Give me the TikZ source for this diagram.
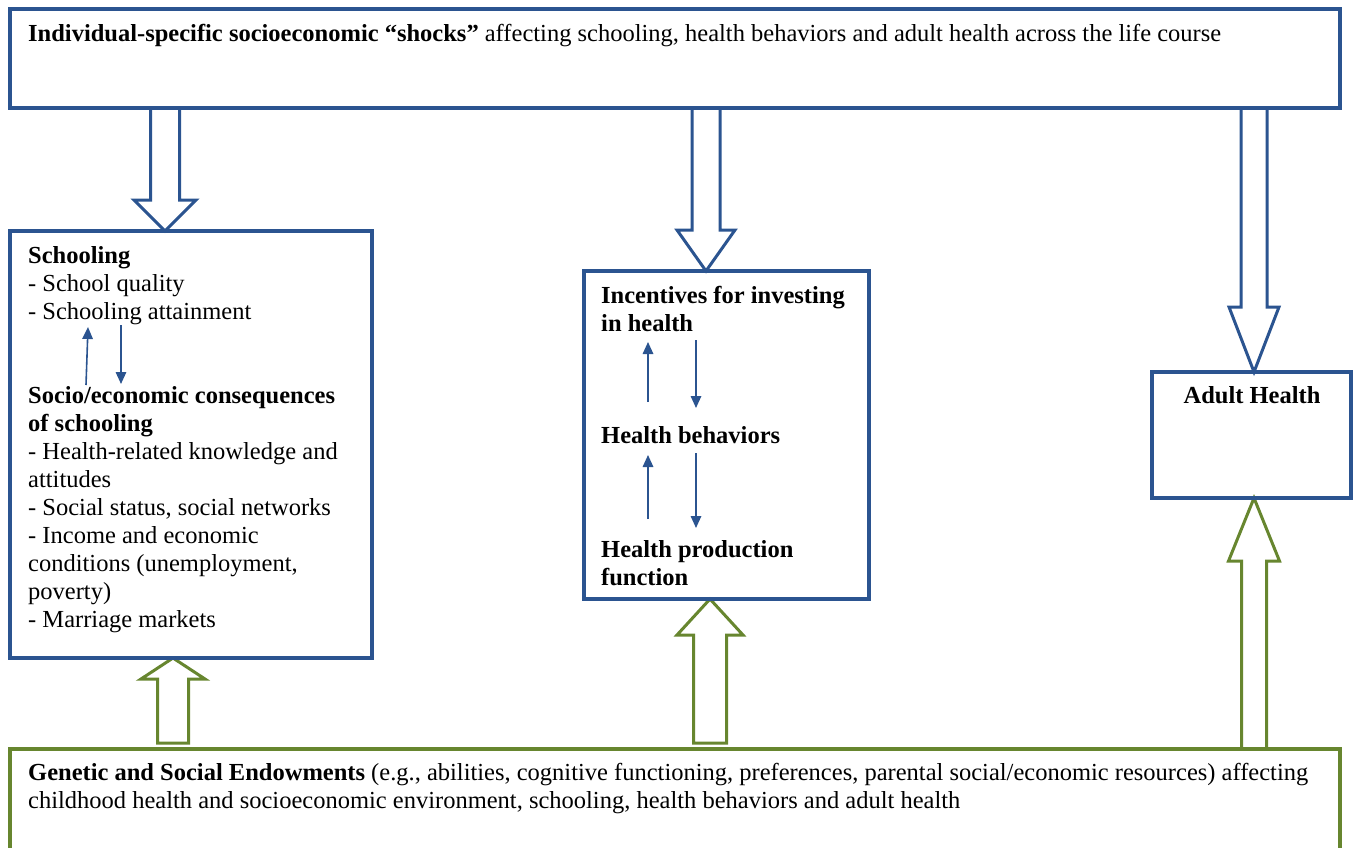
\documentclass[tikz,border=0pt]{standalone}
\usepackage{fontspec}
\setmainfont{Liberation Serif}
\usetikzlibrary{calc,arrows.meta}
\definecolor{boxblue}{HTML}{2B5490}
\definecolor{boxgreen}{HTML}{67862F}

% hollow block arrow: style, start, tip, shaft half width, head half width, head length
\newcommand\fatarrow[6]{%
  \coordinate (fa-b) at ($(#3)!#6!(#2)$);
  \draw[#1] ([xshift=-#4]#2) -- ([xshift=-#4]fa-b) -- ([xshift=-#5]fa-b) -- (#3)
    -- ([xshift=#5]fa-b) -- ([xshift=#4]fa-b) -- ([xshift=#4]#2) -- cycle;}

\begin{document}
\begin{tikzpicture}[x=1pt,y=-1pt,
  bluebox/.style={draw=boxblue, line width=3.4pt, inner sep=0pt, outer sep=0pt},
  greenbox/.style={draw=boxgreen, line width=3.4pt, inner sep=0pt, outer sep=0pt},
  bluearrow/.style={draw=boxblue, line width=3pt, fill=white, line join=miter},
  greenarrow/.style={draw=boxgreen, line width=3pt, fill=white, line join=miter},
  thinarrow/.style={draw=boxblue, line width=1.6pt, -{Triangle[length=12pt,width=10.5pt]}},
  txt/.style={anchor=base west, inner sep=0pt, font=\fontsize{24.5}{28}\selectfont},
  ctxt/.style={anchor=base, inner sep=0pt, font=\fontsize{24.5}{28}\selectfont}]
\clip (0,0) rectangle (1355,848);

% boxes
\node[bluebox, minimum width=1330pt, minimum height=99pt] (top) at (675,58.5) {};
\node[bluebox, minimum width=362pt, minimum height=427pt] (school) at (191,444.5) {};
\node[bluebox, minimum width=285pt, minimum height=328pt] (mid) at (726.5,435) {};
\node[bluebox, minimum width=199pt, minimum height=126pt] (adult) at (1251.5,435) {};
\node[greenbox, minimum width=1330pt, minimum height=151pt] (endow) at (675,824.5) {};

% arrow axes
\coordinate (c1) at (165,0);
\coordinate (c2) at (706,0);
\coordinate (c3) at (1254,0);
\coordinate (c4) at (173,0);
\coordinate (c5) at (710,0);

% shocks feeding down
\coordinate (a1s) at (top.south -| c1);
\coordinate (a1t) at (school.north -| c1);
\coordinate (a2s) at (top.south -| c2);
\coordinate (a2t) at (mid.north -| c2);
\coordinate (a3s) at (top.south -| c3);
\coordinate (a3t) at (adult.north -| c3);
\fatarrow{bluearrow}{a1s}{a1t}{14.5pt}{31pt}{31pt}
\fatarrow{bluearrow}{a2s}{a2t}{14pt}{29pt}{41pt}
\fatarrow{bluearrow}{a3s}{a3t}{13pt}{25pt}{65pt}

% endowments feeding up
\coordinate (a4s) at ($(endow.north -| c4)+(0,-6)$);
\coordinate (a4t) at (school.south -| c4);
\coordinate (a5s) at ($(endow.north -| c5)+(0,-6)$);
\coordinate (a5t) at (mid.south -| c5);
\coordinate (a6s) at (endow.north -| c3);
\coordinate (a6t) at (adult.south -| c3);
\fatarrow{greenarrow}{a4s}{a4t}{15.5pt}{32pt}{21pt}
\fatarrow{greenarrow}{a5s}{a5t}{16.5pt}{33pt}{36pt}
\fatarrow{greenarrow}{a6s}{a6t}{12.5pt}{25.5pt}{63pt}

% box outlines again, over the arrow ends
\draw[boxblue, line width=3.4pt] (top.south west) rectangle (top.north east);
\draw[boxblue, line width=3.4pt] (school.south west) rectangle (school.north east);
\draw[boxblue, line width=3.4pt] (mid.south west) rectangle (mid.north east);
\draw[boxblue, line width=3.4pt] (adult.south west) rectangle (adult.north east);
\draw[boxgreen, line width=3.4pt] (endow.south west) rectangle (endow.north east);

% texts
\node[txt] (t1) at (28,42) {\textbf{Individual-specific socioeconomic “shocks”} affecting schooling, health behaviors and adult health across the life course};

\node[txt] (s1) at (28,263) {\textbf{Schooling}};
\node[txt] (s2) at (28,291) {- School quality};
\node[txt] (s3) at (28,319) {- Schooling attainment};
\node[txt] (s4) at (28,403) {\textbf{Socio/economic consequences}};
\node[txt] (s5) at (28,431) {\textbf{of schooling}};
\node[txt] (s6) at (28,459) {- Health-related knowledge and};
\node[txt] (s7) at (28,487) {attitudes};
\node[txt] (s8) at (28,515) {- Social status, social networks};
\node[txt] (s9) at (28,543) {- Income and economic};
\node[txt] (s10) at (28,571) {conditions (unemployment,};
\node[txt] (s11) at (28,599) {poverty)};
\node[txt] (s12) at (28,627) {- Marriage markets};

\node[txt] (m1) at (601,303) {\textbf{Incentives for investing}};
\node[txt] (m2) at (601,331) {\textbf{in health}};
\node[txt] (m3) at (601,443) {\textbf{Health behaviors}};
\node[txt] (m4) at (601,557) {\textbf{Health production}};
\node[txt] (m5) at (601,585) {\textbf{function}};

\node[ctxt] (ah) at (1252,403) {\textbf{Adult Health}};

\node[txt] (g1) at (28,780) {\textbf{Genetic and Social Endowments} (e.g., abilities, cognitive functioning, preferences, parental social/economic resources) affecting};
\node[txt] (g2) at (28,808) {childhood health and socioeconomic environment, schooling, health behaviors and adult health};

% small two-way arrows
\coordinate (u1a) at (86,385); \coordinate (u1b) at (88,327);
\coordinate (d1a) at (121,325); \coordinate (d1b) at (121,384);
\draw[thinarrow] (u1a) -- (u1b);
\draw[thinarrow] (d1a) -- (d1b);

\coordinate (u2a) at (648,402); \coordinate (u2b) at (648,342);
\coordinate (d2a) at (696,340); \coordinate (d2b) at (696,408);
\coordinate (u3a) at (648,519); \coordinate (u3b) at (648,455);
\coordinate (d3a) at (696,453); \coordinate (d3b) at (696,528);
\draw[thinarrow] (u2a) -- (u2b);
\draw[thinarrow] (d2a) -- (d2b);
\draw[thinarrow] (u3a) -- (u3b);
\draw[thinarrow] (d3a) -- (d3b);
\end{tikzpicture}
\end{document}
